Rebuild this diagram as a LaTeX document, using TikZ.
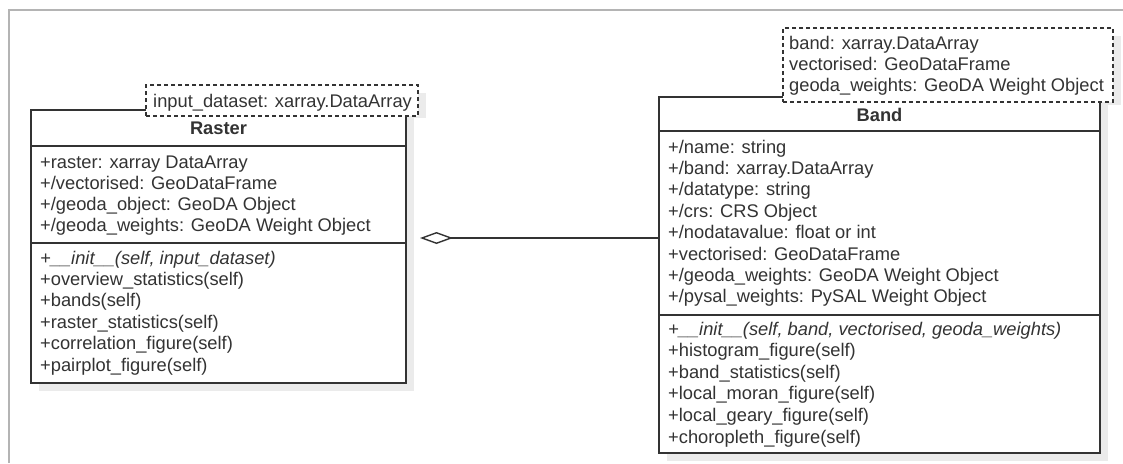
\documentclass[tikz,border=0pt]{standalone}
\usepackage{fontspec}
\setmainfont{Liberation Sans}
\usetikzlibrary{arrows.meta}
\definecolor{ink}{HTML}{333333}
\definecolor{framegray}{HTML}{B4B4B4}
\definecolor{shadowgray}{HTML}{EBEBEB}
\begin{document}
\begin{tikzpicture}[x=1pt,y=-1pt,
  umlline/.style={draw=ink,line width=1.4pt},
  classbox/.style={umlline,fill=white,anchor=north west,inner sep=0pt,outer sep=0pt},
  tplbox/.style={draw=ink,line width=1.3pt,dash pattern=on 4pt off 3pt,fill=white,
                 anchor=north west,inner sep=0pt,outer sep=0pt},
  member/.style={anchor=base west,inner sep=0pt,text=ink,font=\fontsize{18.3}{22}\selectfont},
  classtitle/.style={anchor=base,inner sep=0pt,text=ink,font=\fontsize{18.3}{22}\selectfont\bfseries},
]
\useasboundingbox (0,0) rectangle (1123,463);

% outer frame
\draw[framegray,line width=2pt] (9,463) -- (9,10) -- (1123,10);

% drop shadows
\fill[shadowgray] (39,118) rectangle (414,391);
\fill[shadowgray] (154,93) rectangle (426,118);
\fill[shadowgray] (667,105) rectangle (1108,461);
\fill[shadowgray] (791,36) rectangle (1121,105);

% ---- Raster class ----
\node[classbox,minimum width=375pt,minimum height=273pt] (raster) at (31,110) {};
\draw[umlline] (raster.west |- 0,146) -- (raster.east |- 0,146);
\draw[umlline] (raster.west |- 0,243) -- (raster.east |- 0,243);
\node[tplbox,minimum width=272pt,minimum height=31pt] (rastertpl) at (146,85) {};
\node[member] (rastertpltext) at (153,107) {input\_dataset: xarray.DataArray};
\node[classtitle] (rastertitle) at (218.5,134) {Raster};
\foreach [count=\i from 0] \t in {
  {+raster: xarray DataArray},
  {+/vectorised: GeoDataFrame},
  {+/geoda\_object: GeoDA Object},
  {+/geoda\_weights: GeoDA Weight Object}}
  \node[member] (rattr\i) at (40,{168+21*\i}) {\t};
\node[member,font=\fontsize{18.3}{22}\selectfont\itshape] (rinit) at (40,264) {+\_\_init\_\_(self, input\_dataset)};
\foreach [count=\i from 1] \t in {
  {+overview\_statistics(self)},
  {+bands(self)},
  {+raster\_statistics(self)},
  {+correlation\_figure(self)},
  {+pairplot\_figure(self)}}
  \node[member] (rmeth\i) at (40,{264+21.4*\i}) {\t};

% ---- Band class ----
\node[classbox,minimum width=441pt,minimum height=356pt] (band) at (659,97) {};
\draw[umlline] (band.west |- 0,131) -- (band.east |- 0,131);
\draw[umlline] (band.west |- 0,315) -- (band.east |- 0,315);
\node[tplbox,minimum width=330pt,minimum height=74pt] (bandtpl) at (783,28) {};
\foreach [count=\i from 0] \t in {
  {band: xarray.DataArray},
  {vectorised: GeoDataFrame},
  {geoda\_weights: GeoDA Weight Object}}
  \node[member] (btpl\i) at (789,{49+21*\i}) {\t};
\node[classtitle] (bandtitle) at (879.5,121) {Band};
\foreach [count=\i from 0] \t in {
  {+/name: string},
  {+/band: xarray.DataArray},
  {+/datatype: string},
  {+/crs: CRS Object},
  {+/nodatavalue: float or int},
  {+vectorised: GeoDataFrame},
  {+/geoda\_weights: GeoDA Weight Object},
  {+/pysal\_weights: PySAL Weight Object}}
  \node[member] (battr\i) at (668,{153+21.4*\i}) {\t};
\node[member,font=\fontsize{18.3}{22}\selectfont\itshape] (binit) at (668,335) {+\_\_init\_\_(self, band, vectorised, geoda\_weights)};
\foreach [count=\i from 1] \t in {
  {+histogram\_figure(self)},
  {+band\_statistics(self)},
  {+local\_moran\_figure(self)},
  {+local\_geary\_figure(self)},
  {+choropleth\_figure(self)}}
  \node[member] (bmeth\i) at (668,{335+21.6*\i}) {\t};

% ---- aggregation: Raster <>--- Band ----
\coordinate (aggend) at ([xshift=14pt]raster.east |- 0,238);
\draw[umlline,{Diamond[open,fill=white,length=33pt,width=12pt]}-] (aggend) -- (aggend -| band.west);
\end{tikzpicture}
\end{document}
